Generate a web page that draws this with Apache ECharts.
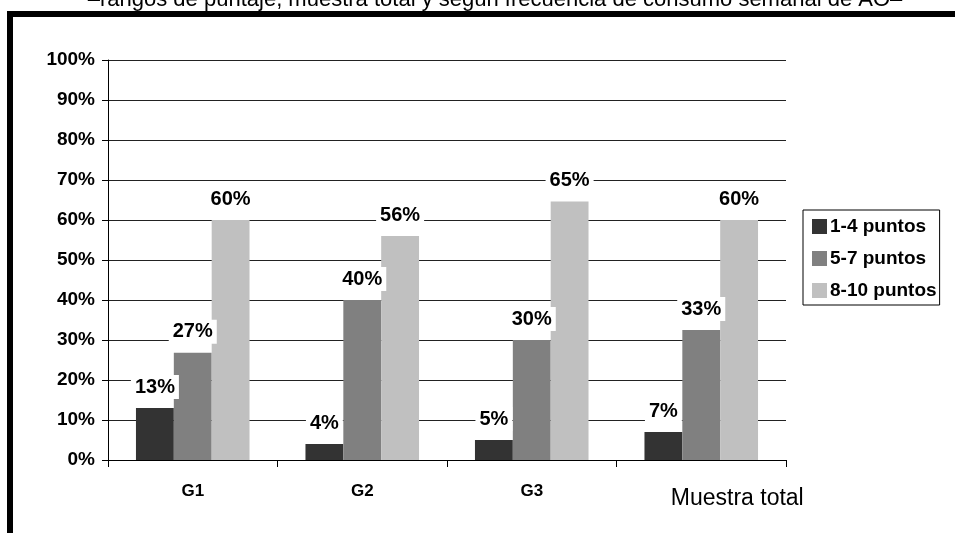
<!DOCTYPE html>
<html>
<head>
<meta charset="utf-8">
<script src="https://cdn.jsdelivr.net/npm/echarts@6/dist/echarts.min.js"></script>
<style>
  html, body { margin: 0; padding: 0; background: #fff; }
  #chart { width: 955px; height: 533px; }
</style>
</head>
<body>
<div id="chart"></div>
<script>
var categories = ['G1', 'G2', 'G3', 'Muestra total'];
var seriesNames = ['1-4 puntos', '5-7 puntos', '8-10 puntos'];
var puntos14 = [13, 4, 5, 7];
var puntos57 = [26.8, 40, 30, 32.5];
var puntos810 = [60, 56, 64.6, 60];
var yTicks = [0, 10, 20, 30, 40, 50, 60, 70, 80, 90, 100];
var colors = ['#333333', '#808080', '#c0c0c0'];

var dom = document.getElementById('chart');
var myChart = echarts.init(dom);
var font = 'Liberation Sans, Arial, sans-serif';

var labelStyle = {
    show: true,
    position: 'top',
    distance: 9,
    formatter: function (p) { return Math.round(p.value) + '%'; },
    fontFamily: font,
    fontSize: 20,
    fontWeight: 'bold',
    color: '#000',
    backgroundColor: '#fff',
    padding: [2, 4]
};

function makeSeries(name, data, color) {
    return {
        name: name,
        type: 'bar',
        data: data,
        barGap: '0%',
        barCategoryGap: '33%',
        itemStyle: { color: color },
        label: labelStyle,
        emphasis: { disabled: true },
        animation: false
    };
}

var option = {
    animation: false,
    graphic: [
        {
            type: 'text',
            x: 495,
            y: -11,
            style: {
                text: '–rangos de puntaje, muestra total y según frecuencia de consumo semanal de AO–',
                font: '22px ' + font,
                fill: '#000',
                textAlign: 'center',
                textVerticalAlign: 'top'
            }
        },
        // thick frame on top and left
        { type: 'rect', shape: { x: 7, y: 11, width: 948, height: 6 }, style: { fill: '#000' } },
        { type: 'rect', shape: { x: 7, y: 11, width: 6, height: 522 }, style: { fill: '#000' } }
    ],
    legend: {
        orient: 'vertical',
        left: 803,
        top: 210,
        padding: [7, 3, 5, 9],
        itemGap: 13,
        itemWidth: 15,
        itemHeight: 15,
        icon: 'rect',
        borderColor: '#000',
        borderWidth: 1,
        backgroundColor: '#fff',
        textStyle: { fontFamily: font, fontSize: 19, fontWeight: 'bold', color: '#000', padding: [0, 0, 0, -2] },
        data: seriesNames
    },
    grid: { left: 108, right: 169, top: 60, bottom: 73 },
    xAxis: {
        type: 'category',
        data: categories,
        axisLine: { lineStyle: { color: '#000', width: 1 } },
        axisTick: { show: true, interval: 0, length: 7, lineStyle: { color: '#000' } },
        axisLabel: {
            interval: 0,
            hideOverlap: false,
            margin: 23,
            fontFamily: font,
            fontSize: 17,
            fontWeight: 'bold',
            color: '#000',
            formatter: function (v) {
                return v === 'Muestra total' ? '{m|' + v + '}' : v;
            },
            rich: {
                m: { fontFamily: font, fontSize: 23, fontWeight: 'normal', color: '#000', padding: [4, 0, 0, 72] }
            }
        }
    },
    yAxis: {
        type: 'value',
        min: yTicks[0],
        max: yTicks[yTicks.length - 1],
        interval: 10,
        axisLine: { show: true, lineStyle: { color: '#000', width: 1 } },
        axisTick: { show: true, length: 6, lineStyle: { color: '#000' } },
        splitLine: { lineStyle: { color: '#222', width: 1 } },
        axisLabel: {
            margin: 13,
            fontFamily: font,
            fontSize: 19,
            fontWeight: 'bold',
            color: '#000',
            formatter: '{value}%'
        }
    },
    series: [
        makeSeries(seriesNames[0], puntos14, colors[0]),
        makeSeries(seriesNames[1], puntos57, colors[1]),
        makeSeries(seriesNames[2], puntos810, colors[2])
    ]
};

myChart.setOption(option);

window.addEventListener('resize', function () {
    myChart.resize();
});
</script>
</body>
</html>
